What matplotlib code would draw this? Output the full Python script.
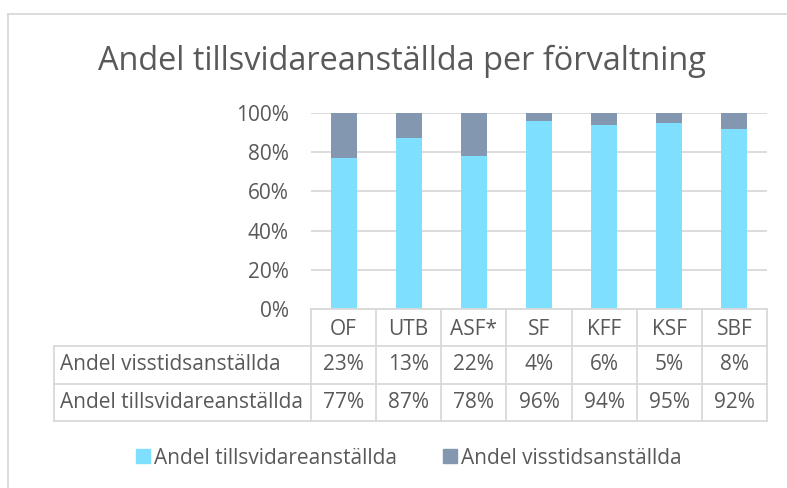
import matplotlib
matplotlib.use("Agg")
import matplotlib.pyplot as plt
from matplotlib.lines import Line2D
from matplotlib.patches import Patch
from matplotlib.ticker import PercentFormatter

plt.rcParams['font.family'] = ['Open Sans', 'DejaVu Sans']

# data
forvaltningar = ["OF", "UTB", "ASF*", "SF", "KFF", "KSF", "SBF"]
tillsvidare = [77, 87, 78, 96, 94, 95, 92]
visstid = [23, 13, 22, 4, 6, 5, 8]
serie_namn = ["Andel tillsvidareanställda", "Andel visstidsanställda"]
titel = "Andel tillsvidareanställda per förvaltning"

cyan = "#7FDFFF"
gragbla = "#8497B0"
textfarg = "#595959"
linjefarg = "#D9D9D9"
fs = 15

W, H = 787, 488
fig = plt.figure(figsize=(W / 100, H / 100), dpi=100)


def px(x0, y0, x1, y1):
    # pixel box (from top left) -> figure fraction rect
    return [x0 / W, 1 - y1 / H, (x1 - x0) / W, (y1 - y0) / H]


# outer frame (only left and top visible in the crop)
fig.add_artist(Line2D([8 / W, 8 / W], [0, 1 - 14 / H], color=linjefarg, lw=1.3))
fig.add_artist(Line2D([8 / W, 1], [1 - 14 / H, 1 - 14 / H], color=linjefarg, lw=1.3))

fig.text(402 / W, 1 - 70 / H, titel, ha="center", va="baseline",
         fontsize=23.4, color=textfarg)

# bars
ax = fig.add_axes(px(311, 113, 767, 309))
x = list(range(len(forvaltningar)))
andel_t = [v / 100 for v in tillsvidare]
andel_v = [v / 100 for v in visstid]
ax.bar(x, andel_t, width=0.4, color=cyan, zorder=3)
ax.bar(x, andel_v, bottom=andel_t, width=0.4, color=gragbla, zorder=3)
ax.set_xlim(-0.5, len(x) - 0.5)
ax.set_ylim(0, 1)
ax.set_yticks([0, 0.2, 0.4, 0.6, 0.8, 1.0])
ax.yaxis.set_major_formatter(PercentFormatter(1.0, decimals=0))
ax.grid(axis="y", color=linjefarg, lw=1.3, zorder=0)
ax.tick_params(axis="y", length=0, labelsize=fs, labelcolor=textfarg, pad=16)
ax.tick_params(axis="x", length=0, labelbottom=False)
for s in ax.spines.values():
    s.set_visible(False)

# data table under the axis
n = len(forvaltningar)
kol = (767 - 311) / n
vanster = -0.5 - (311 - 54) / kol
tab = fig.add_axes(px(54, 309, 767, 421))
tab.set_xlim(vanster, n - 0.5)
tab.set_ylim(3, 0)
tab.axis("off")
lkw = dict(color=linjefarg, lw=1.3, clip_on=False)
tab.plot([-0.5, n - 0.5], [0, 0], **lkw)
for r in (1, 2, 3):
    tab.plot([vanster, n - 0.5], [r, r], **lkw)
tab.plot([vanster, vanster], [1, 3], **lkw)
for i in range(n + 1):
    tab.plot([i - 0.5, i - 0.5], [0, 3], **lkw)

tkw = dict(fontsize=fs, color=textfarg, va="center")
rader = [visstid, tillsvidare]
radnamn = [serie_namn[1], serie_namn[0]]
for i, namn in enumerate(forvaltningar):
    tab.text(i, 0.55, namn, ha="center", **tkw)
for r, (namn, vals) in enumerate(zip(radnamn, rader)):
    tab.text(vanster + 0.09, r + 1.5, namn, ha="left", **tkw)
    for i, v in enumerate(vals):
        tab.text(i, r + 1.5, f"{v}%", ha="center", **tkw)

# legend
handles = [Patch(color=cyan), Patch(color=gragbla)]
fig.legend(handles, serie_namn, loc="center", bbox_to_anchor=(409 / W, 1 - 458 / H),
           ncol=2, frameon=False, fontsize=fs, labelcolor=textfarg,
           handlelength=0.67, handleheight=0.67, handletextpad=0.2, columnspacing=2.2)

fig.savefig("out.png", dpi=100)
